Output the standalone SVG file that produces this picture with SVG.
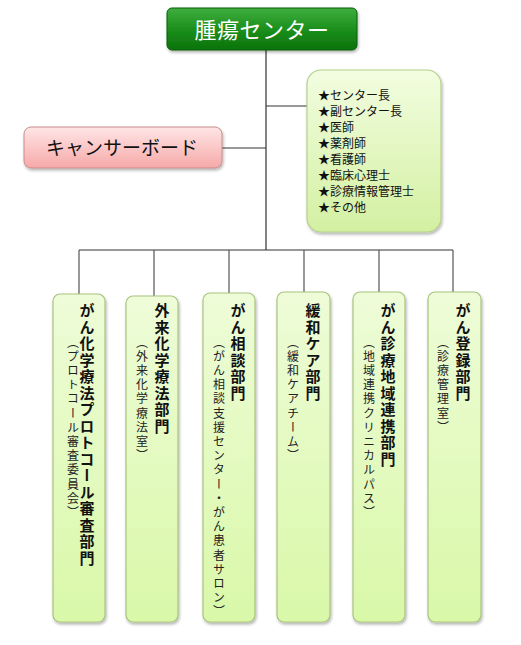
<svg xmlns="http://www.w3.org/2000/svg" width="521" height="645" viewBox="0 0 521 645">
<defs>
<linearGradient id="gTop" x1="0" y1="0" x2="0" y2="1"><stop offset="0" stop-color="#3fae3f"/><stop offset="0.5" stop-color="#1c901c"/><stop offset="1" stop-color="#0b720b"/></linearGradient>
<linearGradient id="gPink" x1="0" y1="0" x2="0" y2="1"><stop offset="0" stop-color="#ffe6e6"/><stop offset="1" stop-color="#f6a8a8"/></linearGradient>
<linearGradient id="gStaff" x1="0" y1="0" x2="0" y2="1"><stop offset="0" stop-color="#f2fde0"/><stop offset="1" stop-color="#d3f0a2"/></linearGradient>
<linearGradient id="gDept" x1="0" y1="0" x2="0" y2="1"><stop offset="0" stop-color="#eefcd8"/><stop offset="1" stop-color="#d9f8a8"/></linearGradient>
<filter id="sh" x="-20%" y="-20%" width="140%" height="140%"><feGaussianBlur in="SourceAlpha" stdDeviation="1.5"/><feOffset dx="1" dy="2"/><feComponentTransfer><feFuncA type="linear" slope="0.3"/></feComponentTransfer><feMerge><feMergeNode/><feMergeNode in="SourceGraphic"/></feMerge></filter>
</defs>
<style>
text{font-family:"Noto Sans CJK JP","Noto Sans",sans-serif;}
.conn{stroke:#333;stroke-width:1.2;fill:none;}
.drop{stroke:#555;stroke-width:1.2;fill:none;}
.dept{fill:url(#gDept);stroke:#a9c47f;stroke-width:1.2;}
.vt{writing-mode:vertical-rl;}
.ttl{font-size:15px;font-weight:bold;fill:#111;letter-spacing:1.5px;}
.sub{font-size:12px;fill:#222;letter-spacing:2.2px;}
.staff{font-size:12px;fill:#111;}
</style>
<rect width="521" height="645" fill="#fff"/>
<g id="connectors">
<path class="conn" d="M266 50V250M266 106H307M222 148H266M79 250H453"/>
<path class="drop" d="M79 250V294M154 250V296M229 250V293M304 250V292M379 250V292M453 250V292"/>
</g>
<g id="top">
<rect x="167" y="8" width="190" height="42" rx="5" fill="url(#gTop)" stroke="#0a5e0a" stroke-width="1" filter="url(#sh)"/>
<text x="262" y="38" font-size="22" fill="#fff" text-anchor="middle" letter-spacing="0.5">腫瘍センター</text>
</g>
<g id="board">
<rect x="24" y="127" width="198" height="41" rx="7" fill="url(#gPink)" stroke="#c88c8c" stroke-width="1" filter="url(#sh)"/>
<text x="122" y="155" font-size="19" fill="#111" text-anchor="middle">キャンサーボード</text>
</g>
<g id="staff">
<rect x="307" y="70" width="134" height="162" rx="14" fill="url(#gStaff)" stroke="#b6cf8e" stroke-width="1.2" filter="url(#sh)"/>
<text class="staff" x="318" y="100">★センター長</text>
<text class="staff" x="318" y="116">★副センター長</text>
<text class="staff" x="318" y="132">★医師</text>
<text class="staff" x="318" y="148">★薬剤師</text>
<text class="staff" x="318" y="164">★看護師</text>
<text class="staff" x="318" y="180">★臨床心理士</text>
<text class="staff" x="318" y="196">★診療情報管理士</text>
<text class="staff" x="318" y="212">★その他</text>
</g>
<g id="dept1">
<rect class="dept" x="53" y="294" width="52" height="328" rx="7" filter="url(#sh)"/>
<text class="vt ttl" x="87" y="303">がん化学療法プロトコール審査部門</text>
<text class="vt sub" x="73" y="336">（プロトコール審査委員会）</text>
</g>
<g id="dept2">
<rect class="dept" x="126" y="296" width="52" height="326" rx="7" filter="url(#sh)"/>
<text class="vt ttl" x="162" y="303">外来化学療法部門</text>
<text class="vt sub" x="142" y="336">（外来化学療法室）</text>
</g>
<g id="dept3">
<rect class="dept" x="203" y="293" width="52" height="329" rx="7" filter="url(#sh)"/>
<text class="vt ttl" x="238" y="303">がん相談部門</text>
<text class="vt sub" x="219" y="336">（がん相談支援センター・がん患者サロン）</text>
</g>
<g id="dept4">
<rect class="dept" x="277" y="292" width="53" height="330" rx="7" filter="url(#sh)"/>
<text class="vt ttl" x="313" y="303">緩和ケア部門</text>
<text class="vt sub" x="293" y="336">（緩和ケアチーム）</text>
</g>
<g id="dept5">
<rect class="dept" x="353" y="292" width="52" height="330" rx="7" filter="url(#sh)"/>
<text class="vt ttl" x="388" y="303">がん診療地域連携部門</text>
<text class="vt sub" x="369" y="336">（地域連携クリニカルパス）</text>
</g>
<g id="dept6">
<rect class="dept" x="428" y="292" width="53" height="330" rx="7" filter="url(#sh)"/>
<text class="vt ttl" x="463" y="303">がん登録部門</text>
<text class="vt sub" x="443" y="336">（診療管理室）</text>
</g>
</svg>
